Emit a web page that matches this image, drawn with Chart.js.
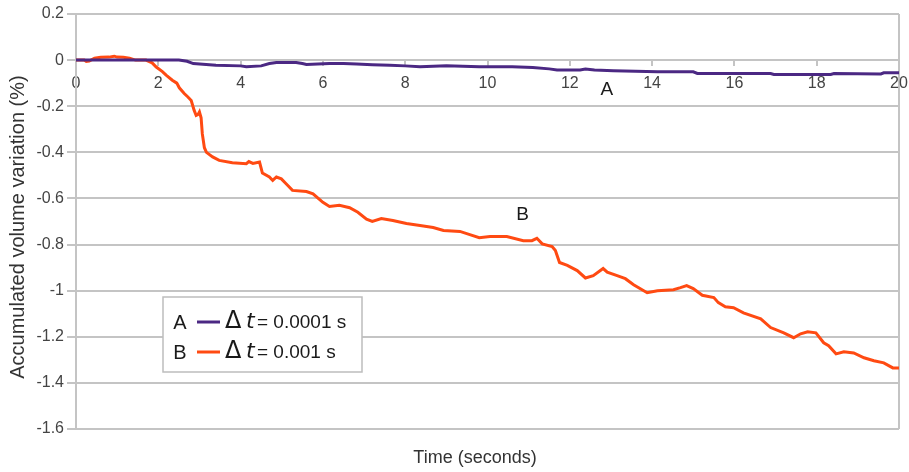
<!DOCTYPE html>
<html>
<head>
<meta charset="utf-8">
<script src="https://cdn.jsdelivr.net/npm/chart.js@4"></script>
<style>
  html, body { margin: 0; padding: 0; background: #fff; }
  canvas { display: block; }
</style>
</head>
<body>
<canvas id="c" width="909" height="472"></canvas>
<script>
// ---- data ----
const timeA = [0, 1, 2, 2.5, 2.7, 2.85, 3.4, 4.0, 4.14, 4.5, 4.7, 4.87, 5.35, 5.5, 5.6, 6.16, 6.5, 6.82, 7.2, 7.63, 8.0, 8.36, 9.0, 9.4, 9.8, 10.6, 11.1, 11.5, 11.69, 12.25, 12.38, 12.6, 13.06, 13.6, 14.13, 15.0, 15.1, 16.0, 16.88, 16.96, 18.34, 18.42, 19.56, 19.63, 20];
const volA  = [0, 0, 0, 0, -0.005, -0.015, -0.022, -0.025, -0.029, -0.025, -0.015, -0.01, -0.01, -0.015, -0.019, -0.015, -0.015, -0.017, -0.02, -0.022, -0.025, -0.029, -0.025, -0.027, -0.029, -0.029, -0.032, -0.038, -0.043, -0.043, -0.039, -0.043, -0.046, -0.048, -0.051, -0.051, -0.058, -0.058, -0.058, -0.062, -0.062, -0.058, -0.06, -0.055, -0.055];

const timeB = [0, 0.2, 0.25, 0.32, 0.45, 0.6, 0.8, 0.93, 1.0, 1.15, 1.3, 1.45, 1.7, 1.85, 1.95, 2.1, 2.19, 2.34, 2.45, 2.51, 2.63, 2.72, 2.8, 2.87, 2.92, 2.97, 3.0, 3.04, 3.07, 3.12, 3.17, 3.32, 3.48, 3.8, 4.14, 4.2, 4.3, 4.46, 4.53, 4.7, 4.78, 4.87, 4.99, 5.1, 5.26, 5.6, 5.76, 6.0, 6.16, 6.4, 6.65, 6.85, 7.06, 7.2, 7.42, 7.7, 8.03, 8.36, 8.68, 8.93, 9.33, 9.57, 9.8, 10.06, 10.47, 10.87, 11.08, 11.2, 11.33, 11.57, 11.65, 11.75, 11.94, 12.18, 12.38, 12.57, 12.81, 12.91, 13.15, 13.35, 13.55, 13.88, 14.13, 14.52, 14.69, 14.84, 15.0, 15.22, 15.5, 15.61, 15.78, 15.98, 16.22, 16.64, 16.88, 17.2, 17.44, 17.61, 17.78, 17.98, 18.17, 18.29, 18.47, 18.66, 18.9, 19.15, 19.39, 19.63, 19.85, 20];
const volB  = [0, 0, -0.006, -0.004, 0.008, 0.012, 0.013, 0.017, 0.013, 0.012, 0.008, 0.0, 0, -0.012, -0.03, -0.05, -0.065, -0.087, -0.1, -0.12, -0.145, -0.16, -0.175, -0.217, -0.24, -0.235, -0.225, -0.25, -0.32, -0.38, -0.4, -0.42, -0.435, -0.445, -0.449, -0.44, -0.448, -0.442, -0.49, -0.507, -0.522, -0.507, -0.515, -0.535, -0.565, -0.57, -0.58, -0.617, -0.635, -0.63, -0.64, -0.66, -0.69, -0.70, -0.687, -0.696, -0.709, -0.717, -0.726, -0.739, -0.743, -0.757, -0.77, -0.765, -0.765, -0.783, -0.783, -0.773, -0.797, -0.809, -0.826, -0.878, -0.89, -0.913, -0.945, -0.935, -0.904, -0.92, -0.935, -0.948, -0.974, -1.009, -1.0, -0.996, -0.987, -0.978, -0.991, -1.02, -1.03, -1.052, -1.07, -1.074, -1.096, -1.122, -1.16, -1.183, -1.204, -1.187, -1.178, -1.183, -1.226, -1.239, -1.274, -1.265, -1.27, -1.291, -1.304, -1.313, -1.335, -1.335];

const seriesNames  = ['A', 'B'];
const seriesDt     = ['= 0.0001 s', '= 0.001 s'];
const xTickLabels  = ['0', '2', '4', '6', '8', '10', '12', '14', '16', '18', '20'];
const yTickLabels  = ['0.2', '0', '-0.2', '-0.4', '-0.6', '-0.8', '-1', '-1.2', '-1.4', '-1.6'];
const curveLabelX  = [12.9, 10.85];
const curveLabelY  = [-0.13, -0.67];

// ---- styling ----
const COL_A = '#4B2883';
const COL_B = '#FF4A12';
const GRID = '#c4c4c4';
const FONT = '"Liberation Sans", Arial, sans-serif';

const ptsA = timeA.map((t, i) => ({x: t, y: volA[i]}));
const ptsB = timeB.map((t, i) => ({x: t, y: volB[i]}));

const curveLabels = {
  id: 'curveLabels',
  afterDatasetsDraw(chart) {
    const {ctx, scales: {x, y}} = chart;
    ctx.save();
    ctx.font = '19px ' + FONT;
    ctx.fillStyle = '#1a1a1a';
    ctx.textAlign = 'center';
    ctx.textBaseline = 'middle';
    seriesNames.forEach((n, i) => {
      ctx.fillText(n, x.getPixelForValue(curveLabelX[i]), y.getPixelForValue(curveLabelY[i]));
    });
    ctx.restore();
  }
};

const boxLegend = {
  id: 'boxLegend',
  afterDraw(chart) {
    const {ctx, chartArea} = chart;
    const left = chartArea.left + 87, top = chartArea.top + 283, w = 199, h = 75;
    ctx.save();
    ctx.fillStyle = '#fff';
    ctx.fillRect(left, top, w, h);
    ctx.strokeStyle = '#bdbdbd';
    ctx.lineWidth = 1.5;
    ctx.strokeRect(left, top, w, h);
    const cols = [COL_A, COL_B];
    seriesNames.forEach((n, i) => {
      const cy = top + 25 + i * 30;
      ctx.fillStyle = '#1a1a1a';
      ctx.textBaseline = 'middle';
      ctx.textAlign = 'center';
      ctx.font = '20px ' + FONT;
      ctx.fillText(n, left + 17, cy + 1);
      ctx.strokeStyle = cols[i];
      ctx.lineWidth = 3;
      ctx.beginPath();
      ctx.moveTo(left + 34, cy);
      ctx.lineTo(left + 57, cy);
      ctx.stroke();
      ctx.textAlign = 'left';
      ctx.font = '24px "DejaVu Sans", sans-serif';
      ctx.fillText('\u0394', left + 62, cy);
      ctx.font = 'italic 22px "DejaVu Sans", sans-serif';
      ctx.fillText('t', left + 83, cy);
      ctx.font = '19px ' + FONT;
      ctx.fillText(seriesDt[i], left + 94, cy + 1);
    });
    ctx.restore();
  }
};

new Chart(document.getElementById('c'), {
  type: 'line',
  data: {
    datasets: [
      { label: 'A', data: ptsA, borderColor: COL_A, borderWidth: 3, pointRadius: 0, tension: 0, fill: false },
      { label: 'B', data: ptsB, borderColor: COL_B, borderWidth: 3, pointRadius: 0, tension: 0, fill: false }
    ]
  },
  options: {
    responsive: false,
    animation: false,
    layout: { padding: { top: 14, right: 10, left: 0, bottom: 0 } },
    plugins: { legend: { display: false }, tooltip: { enabled: false } },
    scales: {
      x: {
        type: 'linear',
        position: { y: 0 },
        min: 0, max: 20,
        afterFit(s) { s.height = 0; s.paddingLeft = 0; s.paddingRight = 0; },
        ticks: {
          stepSize: 2,
          maxRotation: 0,
          padding: 9,
          color: '#444',
          font: { family: FONT, size: 16 },
          callback: (v) => xTickLabels[Math.round(v / 2)]
        },
        grid: {
          drawOnChartArea: true,
          color: (c) => (c.tick && (c.tick.value === 0 || c.tick.value === 20)) ? GRID : 'rgba(0,0,0,0)',
          tickColor: GRID,
          tickLength: 5,
          lineWidth: 2
        },
        border: { display: true, color: GRID, width: 2 }
      },
      x2: {
        type: 'linear',
        position: 'bottom',
        afterFit(s) { s.height = 43; s.paddingLeft = 0; s.paddingRight = 0; },
        ticks: { display: false },
        grid: { display: false, drawTicks: false },
        border: { display: false },
        title: {
          display: true,
          text: 'Time (seconds)     ',
          color: '#333',
          font: { family: FONT, size: 18 },
          padding: { top: 0, bottom: 3 }
        }
      },
      y: {
        type: 'linear',
        min: -1.6, max: 0.2,
        afterFit(s) { s.width = 76; },
        ticks: {
          stepSize: 0.2,
          padding: 3,
          color: '#444',
          font: { family: FONT, size: 16 },
          callback: (v) => yTickLabels[Math.round((0.2 - v) / 0.2)]
        },
        grid: { color: GRID, lineWidth: 2, tickLength: 9, tickColor: GRID },
        border: { display: true, color: GRID, width: 2 },
        title: {
          display: true,
          text: 'Accumulated volume variation (%)  ',
          color: '#333',
          font: { family: FONT, size: 20 },
          padding: { top: 6, bottom: 0 }
        }
      }
    }
  },
  plugins: [curveLabels, boxLegend]
});
</script>
</body>
</html>
